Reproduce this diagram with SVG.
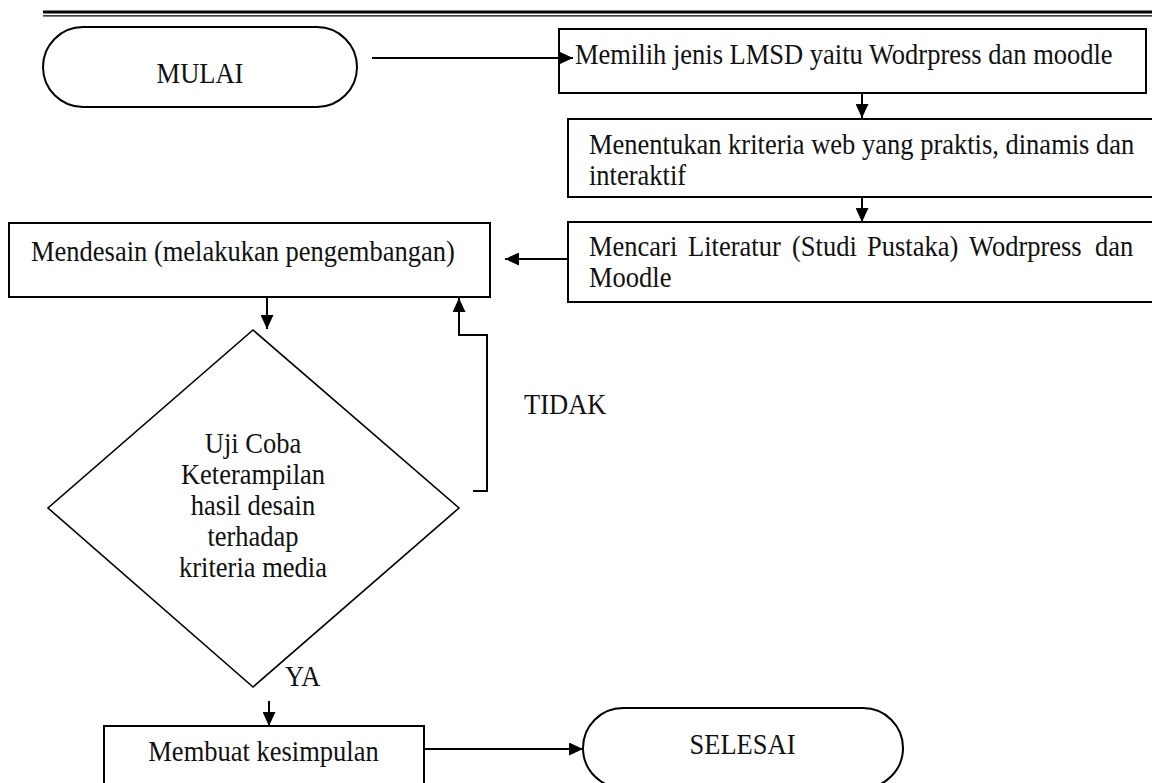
<svg xmlns="http://www.w3.org/2000/svg" width="1152" height="783" viewBox="0 0 1152 783">
<style>
  .box { fill: #fff; stroke: #000; stroke-width: 2; }
  .dia { fill: #fff; stroke: #000; stroke-width: 1.6; }
  .t { font-family: "Liberation Serif", "Times New Roman", serif; font-size: 28.5px; fill: #111; transform-box: fill-box; transform-origin: left center; transform: scale(0.93, 1); }
  .c { text-anchor: middle; transform-origin: center; }
  .con { fill: none; stroke: #000; stroke-width: 2; }
</style>
<defs>
  <marker id="arr" markerUnits="userSpaceOnUse" markerWidth="14" markerHeight="13" refX="14" refY="6.5" orient="auto">
    <path d="M0,0 L14,6.5 L0,13 z" fill="#000"/>
  </marker>
</defs>
<rect width="1152" height="783" fill="#fff"/>
<g id="rule">
  <line x1="43" y1="12" x2="1152" y2="12" stroke="#000" stroke-width="3"/>
  <line x1="43" y1="15.8" x2="1152" y2="15.8" stroke="#000" stroke-width="1.2"/>
</g>
<g id="mulai">
  <rect class="box" x="43" y="27" width="314" height="80" rx="40" ry="40"/>
  <text class="t c" x="200" y="83">MULAI</text>
</g>
<g id="memilih">
  <rect class="box" x="559" y="29" width="587" height="64"/>
  <text class="t" x="575" y="64">Memilih jenis LMSD yaitu Wodrpress dan moodle</text>
</g>
<g id="menentukan">
  <rect class="box" x="568" y="119" width="600" height="78"/>
  <text class="t" x="589" y="154">Menentukan kriteria web yang praktis, dinamis dan</text>
  <text class="t" x="589" y="185">interaktif</text>
</g>
<g id="mencari">
  <rect class="box" x="568" y="222" width="600" height="80"/>
  <text class="t" y="256"><tspan x="589">Mencari</tspan> <tspan x="695.5">Literatur</tspan> <tspan x="807.3">(Studi</tspan> <tspan x="887.9">Pustaka)</tspan> <tspan x="997.6">Wodrpress</tspan> <tspan x="1133.1">dan</tspan></text>
  <text class="t" x="589" y="287">Moodle</text>
</g>
<g id="mendesain">
  <rect class="box" x="9" y="223" width="481" height="74"/>
  <text class="t" x="31" y="261">Mendesain (melakukan pengembangan)</text>
</g>
<g id="ujicoba">
  <polygon class="dia" points="253,330 459,508 253,687 48,508"/>
  <text class="t c" x="253" y="453">Uji Coba</text>
  <text class="t c" x="253" y="484">Keterampilan</text>
  <text class="t c" x="253" y="515">hasil desain</text>
  <text class="t c" x="253" y="546">terhadap</text>
  <text class="t c" x="253" y="577">kriteria media</text>
</g>
<g id="membuat">
  <rect class="box" x="104" y="726" width="320" height="80"/>
  <text class="t c" x="263.5" y="761">Membuat kesimpulan</text>
</g>
<g id="selesai">
  <rect class="box" x="583" y="708" width="320" height="80" rx="40" ry="40"/>
  <text class="t c" x="742.5" y="754">SELESAI</text>
</g>
<g id="connectors">
  <path class="con" d="M372,58 H573" marker-end="url(#arr)"/>
  <path class="con" d="M862,93 V118" marker-end="url(#arr)"/>
  <path class="con" d="M862,197 V222" marker-end="url(#arr)"/>
  <path class="con" d="M568,259 H505" marker-end="url(#arr)"/>
  <path class="con" d="M267,297 V329" marker-end="url(#arr)"/>
  <path class="con" d="M473,491 H487 V335 H459 V298" marker-end="url(#arr)"/>
  <path class="con" d="M269,701 V726" marker-end="url(#arr)"/>
  <path class="con" d="M424,749 H583" marker-end="url(#arr)"/>
</g>
<g id="labels">
  <text class="t" x="524" y="414">TIDAK</text>
  <text class="t" x="285" y="686">YA</text>
</g>
</svg>
